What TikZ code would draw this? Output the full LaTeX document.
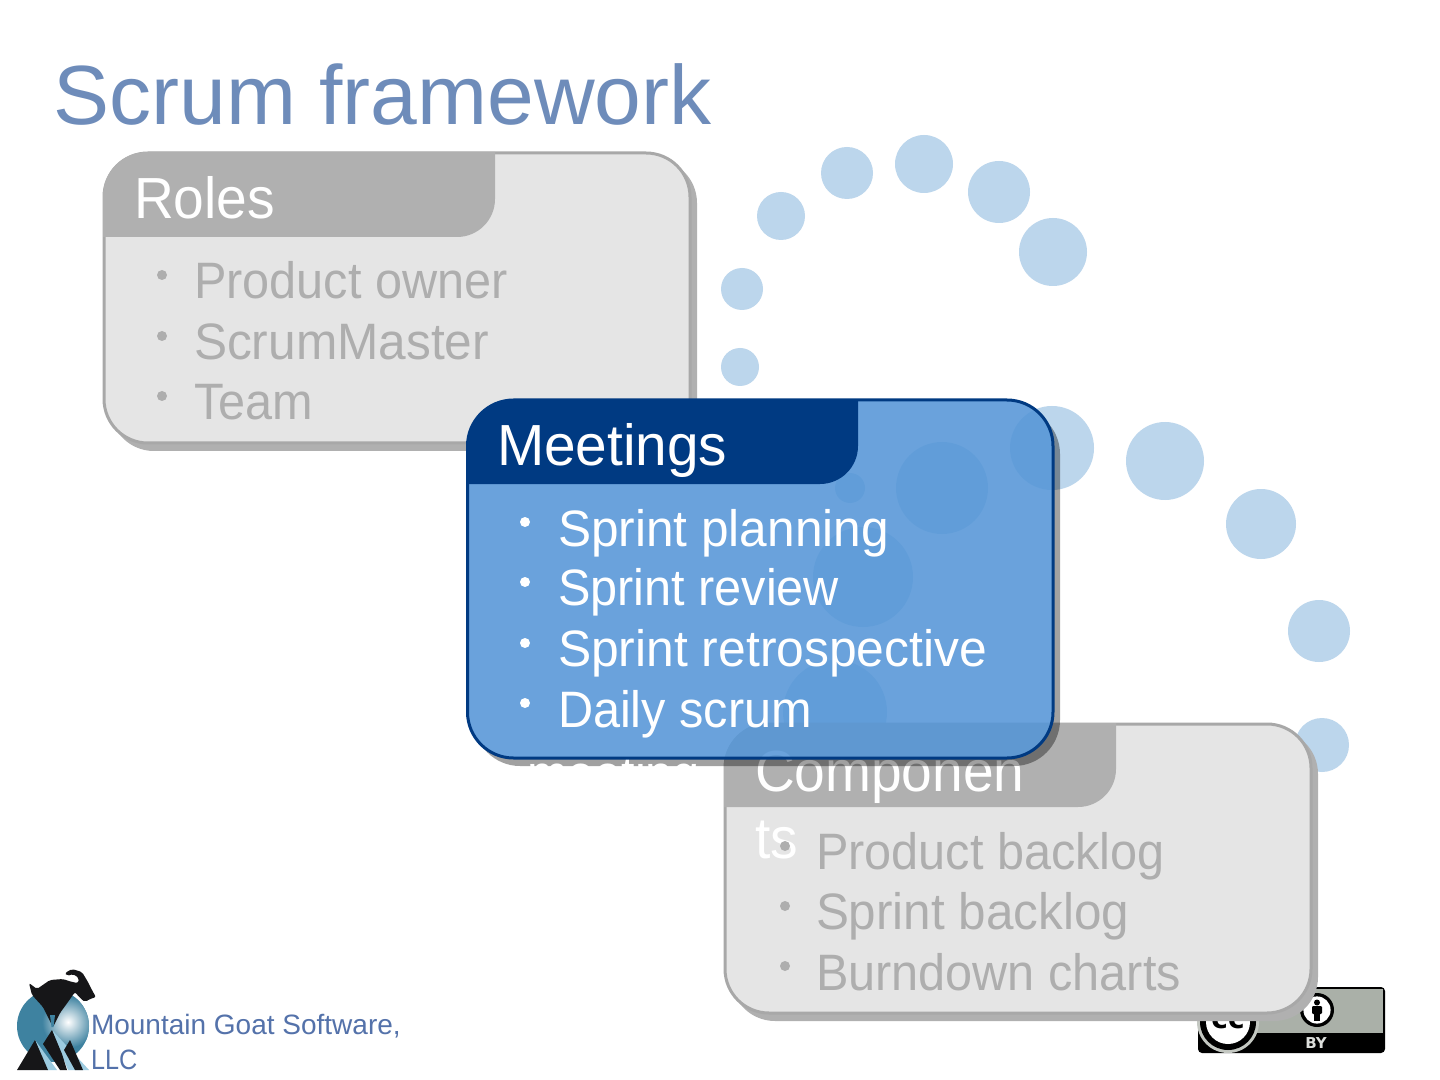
\documentclass[tikz,border=0pt]{standalone}
\usepackage{graphicx}
\usepackage{fontspec}
\setmainfont[FakeStretch=0.95]{Liberation Sans}
\newfontfamily\titlefont{Liberation Sans}
\newfontfamily\bdfont{DejaVu Sans}
\newcommand\hsq[2]{\scalebox{#1}[1]{#2}}
\definecolor{titleblue}{RGB}{110,140,186}
\definecolor{footblue}{RGB}{84,114,170}
\definecolor{dot}{RGB}{188,214,236}
\definecolor{navy}{RGB}{0,58,130}
\definecolor{mfill}{RGB}{84,149,215}
\definecolor{gfill}{RGB}{229,229,229}
\definecolor{ghead}{RGB}{176,176,176}
\definecolor{gtext}{RGB}{174,174,174}
\definecolor{gline}{RGB}{168,168,168}
\definecolor{teal}{RGB}{62,130,160}
\definecolor{ice}{RGB}{156,203,224}
\definecolor{goat}{RGB}{22,22,24}
\definecolor{ccgray}{RGB}{170,176,168}
\tikzset{
  txt/.style={inner sep=0pt,outer sep=0pt,anchor=base west},
  bigt/.style={txt,font=\fontsize{29}{29}\selectfont},
  body/.style={txt,font=\fontsize{25.6}{26}\selectfont},
  foot/.style={txt,text=footblue,font=\titlefont\fontsize{14}{14}\selectfont},
  dotc/.style={fill=dot},
  bul/.style={fill=gtext},
  bulw/.style={fill=white},
}
\begin{document}
\begin{tikzpicture}[x=0.5pt,y=-0.5pt]
\useasboundingbox (0,0) rectangle (1440,1080);
\fill[white] (0,0) rectangle (1440,1080);
% title
\node[txt,text=titleblue,font=\titlefont\fontsize{42}{42}\selectfont] (title) at (53.5,125) {Scrum framework};
% spiral of dots
\foreach \cx/\cy/\r in {1053/252/34,999/192/31,924/164/29,847/173/26,781/216/24,742/289/21,740/367/19,
  1052/448/42,1165/461/39,1261/524/35,1319/631/31,1322/745/27,942/488/46,850/488/15,863/577/50,835/712/52}
  \fill[dotc] (\cx,\cy) circle[radius=\r*0.5pt];
% Roles box
\fill[ghead,rounded corners=22pt] (110,159) rectangle (697,451);
\fill[gfill,draw=gline,line width=1.5pt,rounded corners=22pt] (104,153) rectangle (690,443);
\fill[ghead] (103,237) [rounded corners=22pt] -- (103,152) [sharp corners] -- (495,152) [rounded corners=19pt] -- (495,237) [sharp corners] -- cycle;
\node[bigt,text=white] (rolesh) at (134,219) {Roles};
\foreach \y in {275,336,396} \fill[bul] (162,\y) circle[radius=2.5pt];
\node[body,text=gtext] (r1) at (194,299) {Product owner};
\node[body,text=gtext] (r2) at (194,360) {\hsq{1.02}{ScrumMaster}};
\node[body,text=gtext] (r3) at (194,420) {Team};
% CC badge
\fill[black,rounded corners=2pt] (1198,987) rectangle (1385,1053);
\fill[ccgray] (1200,989) rectangle (1383,1033);
\fill[ccgray!70!white] (1228,1022) circle[radius=15.5pt];
\fill[black] (1228,1022) circle[radius=14pt];
\fill[white] (1228,1022) circle[radius=11pt];
\node[text=black,inner sep=0pt,font=\bdfont\bfseries\fontsize{14}{14}\selectfont] (cc) at (1228,1021) {cc};
\fill[black] (1317,1010) circle[radius=8.5pt];
\fill[white] (1317,1010) circle[radius=6.8pt];
\fill[black] (1317,1002.5) circle[radius=1.5pt];
\fill[black,rounded corners=0.6pt] (1312,1006) rectangle (1322,1014);
\fill[black] (1314,1012) rectangle (1320,1021);
\node[text=ccgray!40!white,inner sep=0pt,font=\bdfont\bfseries\fontsize{7.5}{8}\selectfont] (by) at (1316,1043) {BY};
% Components box
\fill[ghead,rounded corners=22pt] (731,730) rectangle (1318,1021);
\fill[gfill,draw=gline,line width=1.5pt,rounded corners=22pt] (725,724) rectangle (1311,1013);
\fill[ghead] (724,807) [rounded corners=22pt] -- (724,723) [sharp corners] -- (1116,723) [rounded corners=19pt] -- (1116,807) [sharp corners] -- cycle;
\node[bigt,text=white] (comph) at (755,791) {Componen};
\node[bigt,text=white] (comph2) at (755,858) {ts};
\foreach \y in {846,906,966} \fill[bul] (785,\y) circle[radius=2.5pt];
\node[body,text=gtext] (c1) at (816,869) {Product backlog};
\node[body,text=gtext] (c2) at (816,929) {\hsq{1.016}{Sprint backlog}};
\node[body,text=gtext] (c3) at (816,990) {Burndown charts};
% Meetings shadow (outside the box only)
\begin{scope}[even odd rule,rounded corners=23pt]
\clip (-100,-100) rectangle (1540,1180) (467,400) rectangle (1053,758);
\fill[black,opacity=0.37] (474,408) rectangle (1060,766);
\end{scope}
\node[body,text=white] (m5) at (527,791) {meeting};
% Meetings box
\fill[mfill,fill opacity=0.87,rounded corners=23pt] (467,400) rectangle (1053,758);
\fill[navy] (467,484) [rounded corners=23pt] -- (467,400) [sharp corners] -- (858,400) [rounded corners=19pt] -- (858,484) [sharp corners] -- cycle;
\draw[navy,line width=1.5pt,rounded corners=23pt] (467.5,400) rectangle (1053,758);
\node[bigt,text=white] (meeth) at (497,466) {\hsq{1.03}{Meetings}};
\foreach \y in {522,582,643,703} \fill[bulw] (525,\y) circle[radius=2.5pt];
\node[body,text=white] (m1) at (558,546) {\hsq{1.02}{Sprint planning}};
\node[body,text=white] (m2) at (558,605) {Sprint review};
\node[body,text=white] (m3) at (558,666) {\hsq{1.024}{Sprint retrospective}};
\node[body,text=white] (m4) at (558,727) {Daily scrum};
% logo: coordinates are px
\begin{scope}
\clip (53,1026) circle[radius=18pt];
\fill[teal] (17,990) rectangle (90,1066);
\shade[inner color=white,outer color=teal] (68,1022) circle[radius=13pt];
\end{scope}
\fill[ice] (35,1040) -- (57,1070) -- (47,1070) -- cycle;
\fill[ice] (52,1030) -- (89,1070) -- (68,1070) -- cycle;
\fill[goat] (17,1070) -- (35,1040) -- (48,1070) -- cycle;
\fill[goat] (52,1030) -- (43,1044) -- (60,1070) -- (67,1070) -- (62,1054) -- cycle;
\fill[goat] (70,1040) -- (64,1050) -- (75,1070) -- (83,1070) -- cycle;
\fill[goat,rounded corners=1pt] (29,983) -- (37,989) -- (50,980) -- (63,979) -- (72,982) -- (78,983)
  -- (79,978) -- (73,974) -- (67,976) -- (65,973) -- (72,969) -- (82,972) -- (88,982) -- (93,992)
  -- (96,997) -- (90,999) -- (85,1002) -- (80,998) -- (75,992) -- (68,1002) -- (60,1013) -- (53,1027)
  -- (43,1007) -- (32,995) -- cycle;
\fill[teal] (50,1015) -- (55,1015) -- (53.5,1027) -- (51.5,1027) -- cycle;
\node[foot] (f1) at (91,1034) {Mountain Goat Software,};
\node[foot] (f2) at (91,1069) {\hsq{0.9}{LLC}};
\end{tikzpicture}
\end{document}
